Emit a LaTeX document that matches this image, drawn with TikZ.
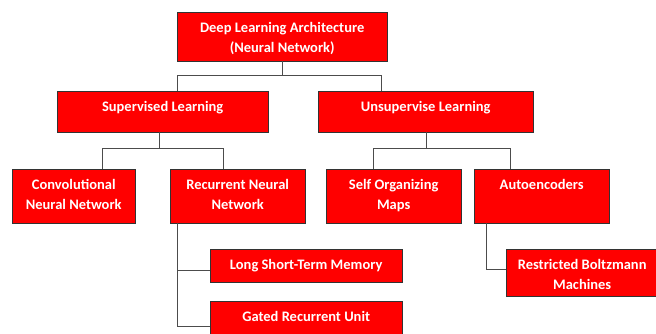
\documentclass[tikz,border=0pt]{standalone}
\usepackage{fontspec}
\setmainfont{Carlito}
\usepackage{tikz}
\usetikzlibrary{positioning}

\begin{document}
\begin{tikzpicture}[x = 1pt, y = -1pt,
		box/.style = {draw = black!80, fill = red, text = white, font = \fontsize{14.5}{20.5}\selectfont\bfseries,
			align = center, anchor = north west, inner sep = 0pt, text height = 20pt},
		twoline/.style = {text height = 40.5pt},
		link/.style = {draw = black!70, line width = 0.8pt}]
		\useasboundingbox (0,0) rectangle (656,334);
		\node[box, twoline, minimum width = 210pt, text depth = 8.5pt] (dl) at (177,12) {Deep Learning Architecture\\(Neural Network)};
		\node[box, minimum width = 211pt, text depth = 21pt] (sup) at (57,91) {Supervised Learning};
		\node[box, minimum width = 215pt, text depth = 21pt] (unsup) at (318,91) {Unsupervise Learning};
		\node[box, twoline, minimum width = 123pt, text depth = 13.5pt] (cnn) at (12,169) {Convolutional\\Neural Network};
		\node[box, twoline, minimum width = 135pt, text depth = 13.5pt] (rnn) at (170,169) {Recurrent Neural\\Network};
		\node[box, twoline, minimum width = 135pt, text depth = 13.5pt] (som) at (326,169) {Self Organizing\\Maps};
		\node[box, minimum width = 135pt, text depth = 34pt] (auto) at (474,169) {Autoencoders};
		\node[box, minimum width = 192pt, text depth = 13pt] (lstm) at (210,249) {Long Short-Term Memory};
		\node[box, minimum width = 192pt, text depth = 20pt, below = 19pt of lstm] (gru) {Gated Recurrent Unit};
		\node[box, twoline, minimum width = 152pt, text depth = 6.5pt] (rbm) at (506,249) {Restricted Boltzmann\\Machines};
		\draw[link] (dl.south) -- ++(0,14) coordinate (dlb);
		\draw[link] ([xshift = 120pt]sup.north west) |- (dlb) -| ([xshift = 63pt]unsup.north west);
		\draw[link] ([xshift = -3pt]sup.south) -- ++(0,16) coordinate (supb);
		\draw[link] ([xshift = 90pt]cnn.north west) |- (supb) -| ([xshift = 53pt]rnn.north west);
		\draw[link] ([xshift = 1pt]unsup.south) -- ++(0,16) coordinate (unsupb);
		\draw[link] ([xshift = 47pt]som.north west) |- (unsupb) -| ([xshift = 36pt]auto.north west);
		\draw[link] ([xshift = 7pt]rnn.south west) |- ([yshift = -21pt]lstm.north west);
		\draw[link] ([xshift = 7pt]rnn.south west) |- ([yshift = -25pt]gru.north west);
		\draw[link] ([xshift = 12pt]auto.south west) |- ([yshift = -20pt]rbm.north west);
	\end{tikzpicture}
\end{document}
